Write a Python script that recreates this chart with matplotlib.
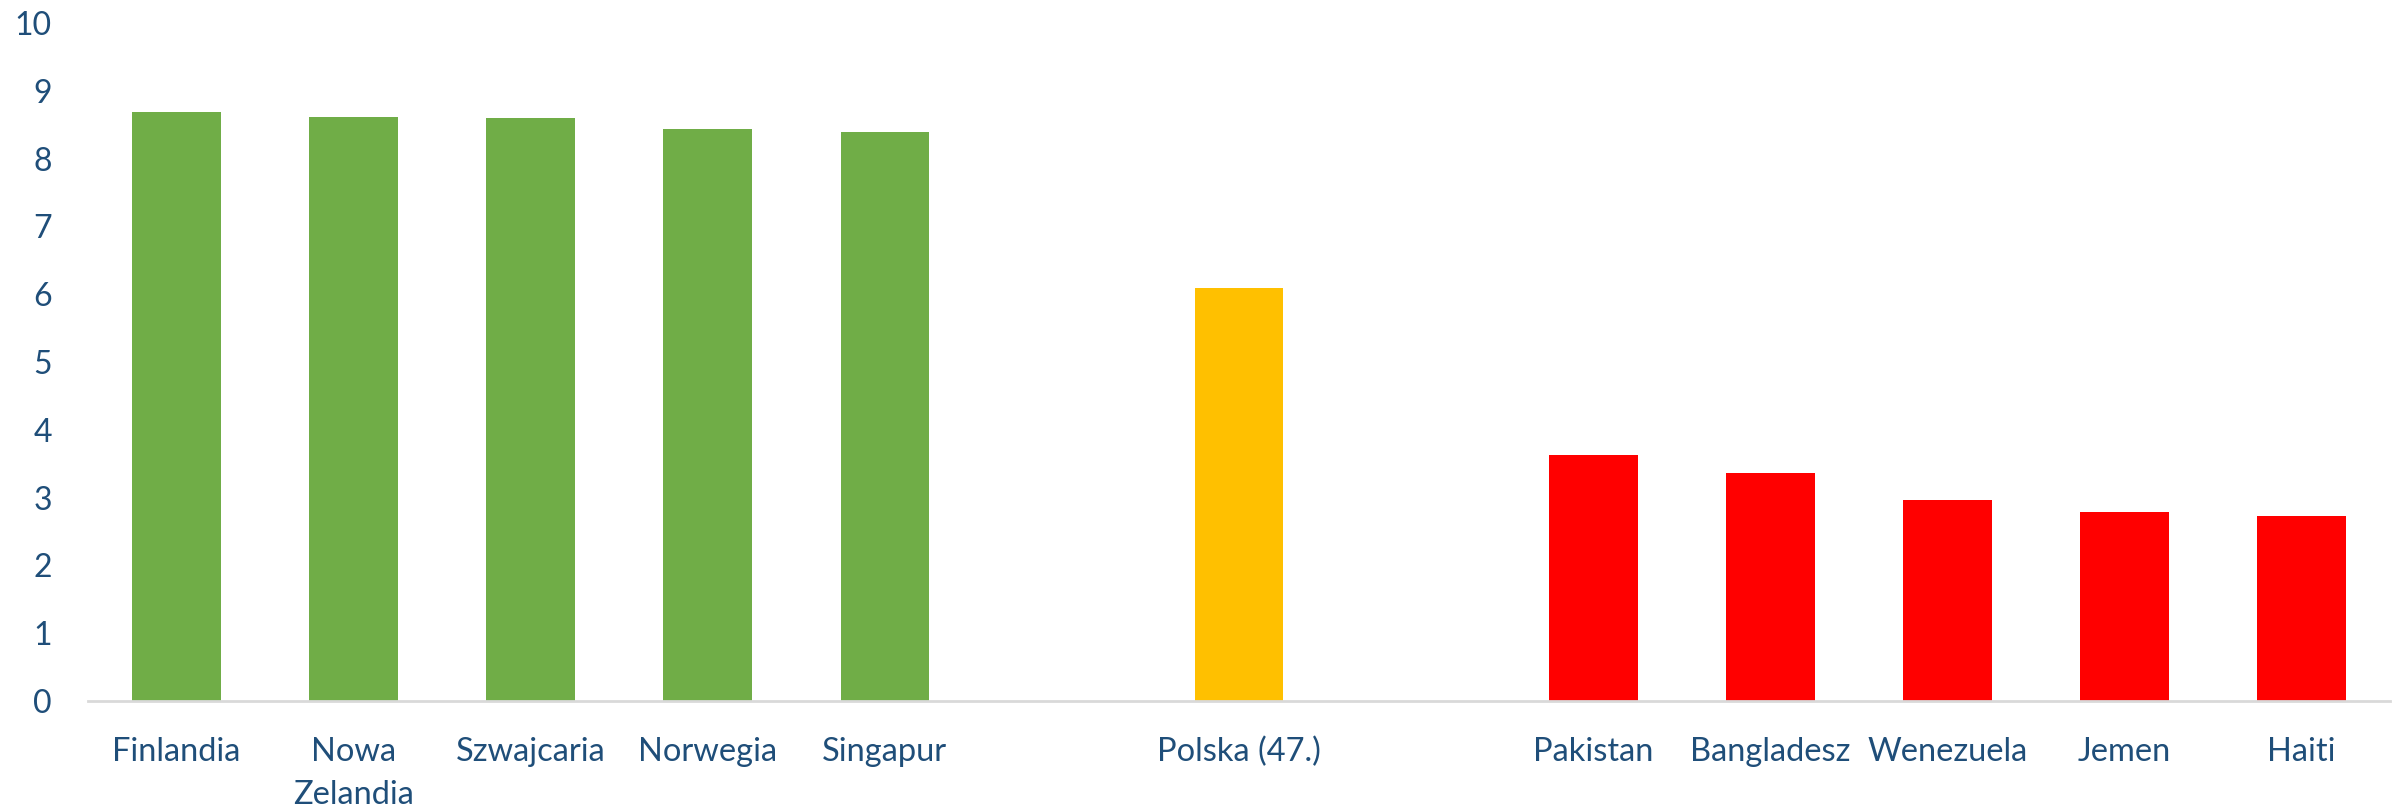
import matplotlib
matplotlib.use("Agg")
from matplotlib import pyplot as plt

countries = ["Finlandia", "Nowa\nZelandia", "Szwajcaria", "Norwegia", "Singapur", "",
             "Polska (47.)", "",
             "Pakistan", "Bangladesz", "Wenezuela", "Jemen", "Haiti"]
scores = [8.69, 8.61, 8.60, 8.44, 8.39, 0,
          6.09, 0,
          3.63, 3.36, 2.96, 2.79, 2.73]
colors = ["#70AD47"] * 5 + ["white", "#FFC000", "white"] + ["#FF0000"] * 5

text_color = "#1F4E79"
plt.rcParams['font.family'] = ['Lato', 'DejaVu Sans']

fig = plt.figure(figsize=(23.95, 8.09), dpi=100)
ax = fig.add_axes([0.0367, 0.1335, 0.9613, 0.8381])

x = list(range(len(countries)))
ax.bar(x, scores, width=0.5, color=colors)

ax.set_xlim(-0.5, len(countries) - 0.5)
ax.set_ylim(0, 10)
ax.set_yticks(range(0, 11))
ax.set_xticks(x)
ax.set_xticklabels(countries, linespacing=1.55)

for side in ["left", "right", "top"]:
    ax.spines[side].set_visible(False)
ax.spines["bottom"].set_color("#D9D9D9")
ax.spines["bottom"].set_linewidth(2)

ax.tick_params(axis="y", length=0, pad=26, labelsize=23, labelcolor=text_color)
ax.tick_params(axis="x", length=0, pad=26, labelsize=23.5, labelcolor=text_color)

plt.savefig("out.png", dpi=100)
